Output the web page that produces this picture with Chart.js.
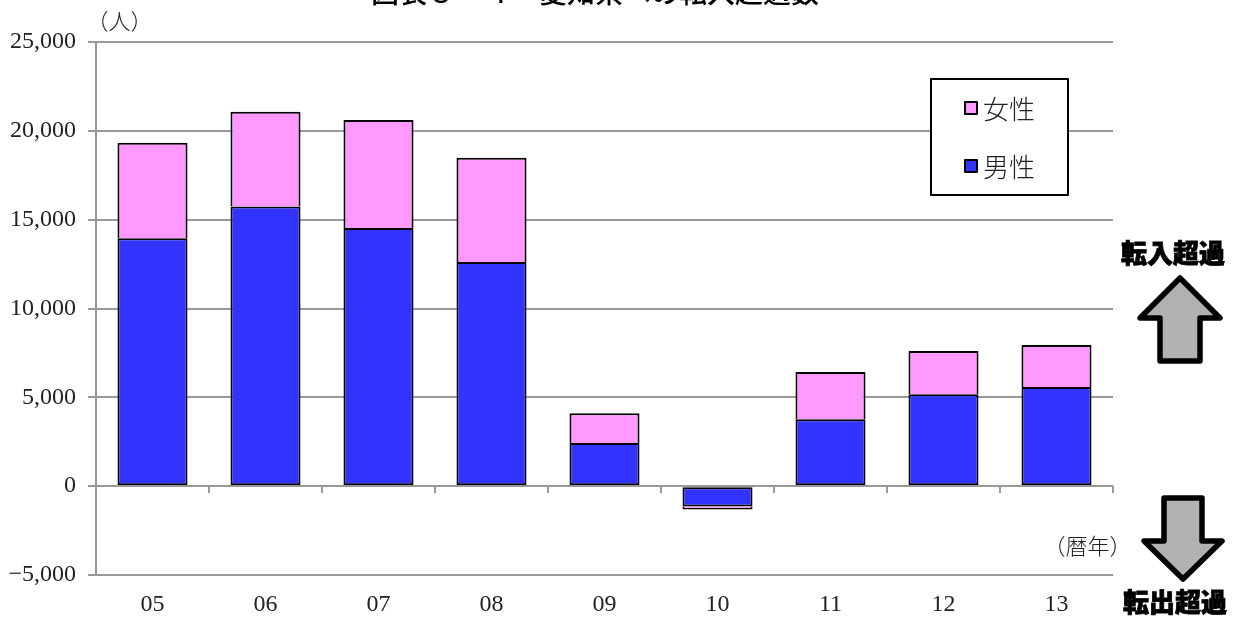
<!DOCTYPE html>
<html>
<head>
<meta charset="utf-8">
<title>愛知県への転入超過数</title>
<script src="https://cdn.jsdelivr.net/npm/chart.js@4/dist/chart.umd.min.js"></script>
<style>
html, body { margin: 0; padding: 0; background: #fff; }
#wrap { width: 1236px; height: 617px; }
</style>
</head>
<body>
<div id="wrap"><canvas id="chart" width="1236" height="617"></canvas></div>
<script>
var years = ['05', '06', '07', '08', '09', '10', '11', '12', '13'];
var maleValues = [13960, 15740, 14530, 12620, 2430, -1150, 3770, 5180, 5580];
var femaleValues = [5370, 5340, 6080, 5860, 1680, -170, 2650, 2430, 2370];
var yTicks = [25000, 20000, 15000, 10000, 5000, 0, -5000];

var AXIS_GRAY = '#999999';
var SERIF = '"Liberation Serif", "Noto Sans CJK JP", serif';
var CJK = '"Noto Sans CJK JP", sans-serif';

// block arrow, tip at (cx, tipY), dir is -1 for up and 1 for down
function blockArrow(ctx, cx, tipY, dir, headW, headH, stemW, total) {
    var baseY = tipY - dir * headH;
    var endY = tipY - dir * total;
    ctx.beginPath();
    ctx.moveTo(cx, tipY);
    ctx.lineTo(cx + headW / 2, baseY);
    ctx.lineTo(cx + stemW / 2, baseY);
    ctx.lineTo(cx + stemW / 2, endY);
    ctx.lineTo(cx - stemW / 2, endY);
    ctx.lineTo(cx - stemW / 2, baseY);
    ctx.lineTo(cx - headW / 2, baseY);
    ctx.closePath();
    ctx.fillStyle = '#b2b2b2';
    ctx.strokeStyle = '#000';
    ctx.lineWidth = 5.5;
    ctx.lineJoin = 'round';
    ctx.fill();
    ctx.stroke();
}

// heavy label with a thin outline to thicken the strokes
function heavyText(ctx, text, x, y) {
    ctx.fillText(text, x, y);
    ctx.strokeText(text, x, y);
}

// zero line with category ticks, sits on top of the bars
var zeroAxis = {
    id: 'zeroAxis',
    afterDatasetsDraw: function (chart) {
        var ctx = chart.ctx;
        var area = chart.chartArea;
        var y0 = Math.round(chart.scales.y.getPixelForValue(0));
        var step = (area.right - area.left) / years.length;
        ctx.save();
        ctx.strokeStyle = AXIS_GRAY;
        ctx.lineWidth = 2;
        ctx.beginPath();
        for (var i = 1; i <= years.length; i++) {
            var x = Math.round(area.left + step * i);
            ctx.moveTo(x, y0);
            ctx.lineTo(x, y0 + 7);
        }
        ctx.stroke();
        ctx.beginPath();
        ctx.moveTo(area.left, y0);
        ctx.lineTo(area.right, y0);
        ctx.stroke();
        ctx.restore();
    }
};

// legend box, title, unit labels and the two arrows
var decorations = {
    id: 'decorations',
    afterDraw: function (chart) {
        var ctx = chart.ctx;
        ctx.save();

        ctx.fillStyle = '#000';
        ctx.textBaseline = 'middle';
        ctx.textAlign = 'center';
        ctx.font = '500 28px ' + CJK;
        ctx.fillText('図表８－４　愛知県への転入超過数', 595, -8);

        ctx.fillStyle = '#222';
        ctx.font = '300 22px ' + CJK;
        ctx.fillText('（人）', 119.5, 21);
        ctx.fillText('（暦年）', 1087.5, 546);

        ctx.fillStyle = '#000';
        ctx.strokeStyle = '#000';
        ctx.lineWidth = 0.8;
        ctx.font = '900 26px ' + CJK;
        heavyText(ctx, '転入超過', 1173, 253);
        heavyText(ctx, '転出超過', 1175, 602);

        blockArrow(ctx, 1180, 278, -1, 80, 40, 40, 83);
        blockArrow(ctx, 1183, 579, 1, 78, 38, 38, 81);

        // legend
        ctx.fillStyle = '#fff';
        ctx.strokeStyle = '#000';
        ctx.lineWidth = 2;
        ctx.fillRect(931, 79, 137, 116);
        ctx.strokeRect(931, 79, 137, 116);
        var rows = [chart.data.datasets[1], chart.data.datasets[0]];
        var rowY = [108, 166];
        ctx.textAlign = 'left';
        ctx.font = '300 26px ' + CJK;
        rows.forEach(function (ds, i) {
            ctx.fillStyle = ds.backgroundColor;
            ctx.fillRect(965, rowY[i] - 6, 12, 12);
            ctx.lineWidth = 2;
            ctx.strokeRect(965, rowY[i] - 6, 12, 12);
            ctx.fillStyle = '#222';
            ctx.fillText(ds.label, 983, rowY[i] + 1);
        });
        ctx.restore();
    }
};

var chart = new Chart(document.getElementById('chart').getContext('2d'), {
    type: 'bar',
    data: {
        labels: years,
        datasets: [
            { label: '男性', data: maleValues, backgroundColor: '#3333ff', borderColor: '#000', borderWidth: 2, borderSkipped: false },
            { label: '女性', data: femaleValues, backgroundColor: '#ff99ff', borderColor: '#000', borderWidth: 2, borderSkipped: 'start' }
        ]
    },
    options: {
        responsive: false,
        animation: false,
        events: [],
        layout: { padding: { top: 42, right: 123, left: 0, bottom: 0 } },
        plugins: {
            legend: { display: false },
            tooltip: { enabled: false }
        },
        datasets: { bar: { barPercentage: 0.62, categoryPercentage: 1 } },
        scales: {
            x: {
                stacked: true,
                afterFit: function (scale) { scale.height = 42; },
                grid: { drawOnChartArea: false, drawTicks: false, color: AXIS_GRAY },
                border: { display: false },
                ticks: { color: '#222', maxRotation: 0, padding: 15, font: { family: SERIF, size: 24 } }
            },
            y: {
                stacked: true,
                min: -5000,
                max: 25000,
                afterFit: function (scale) { scale.width = 96; },
                afterBuildTicks: function (scale) {
                    scale.ticks = yTicks.map(function (v) { return { value: v }; });
                },
                grid: { color: AXIS_GRAY, lineWidth: 2, tickLength: 8 },
                border: { color: AXIS_GRAY, width: 2 },
                ticks: {
                    color: '#222',
                    padding: 12,
                    font: { family: SERIF, size: 24 },
                    callback: function (v) { return v < 0 ? '−' + Math.abs(v).toLocaleString('en-US') : v.toLocaleString('en-US'); }
                }
            }
        }
    },
    plugins: [zeroAxis, decorations]
});
</script>
</body>
</html>
